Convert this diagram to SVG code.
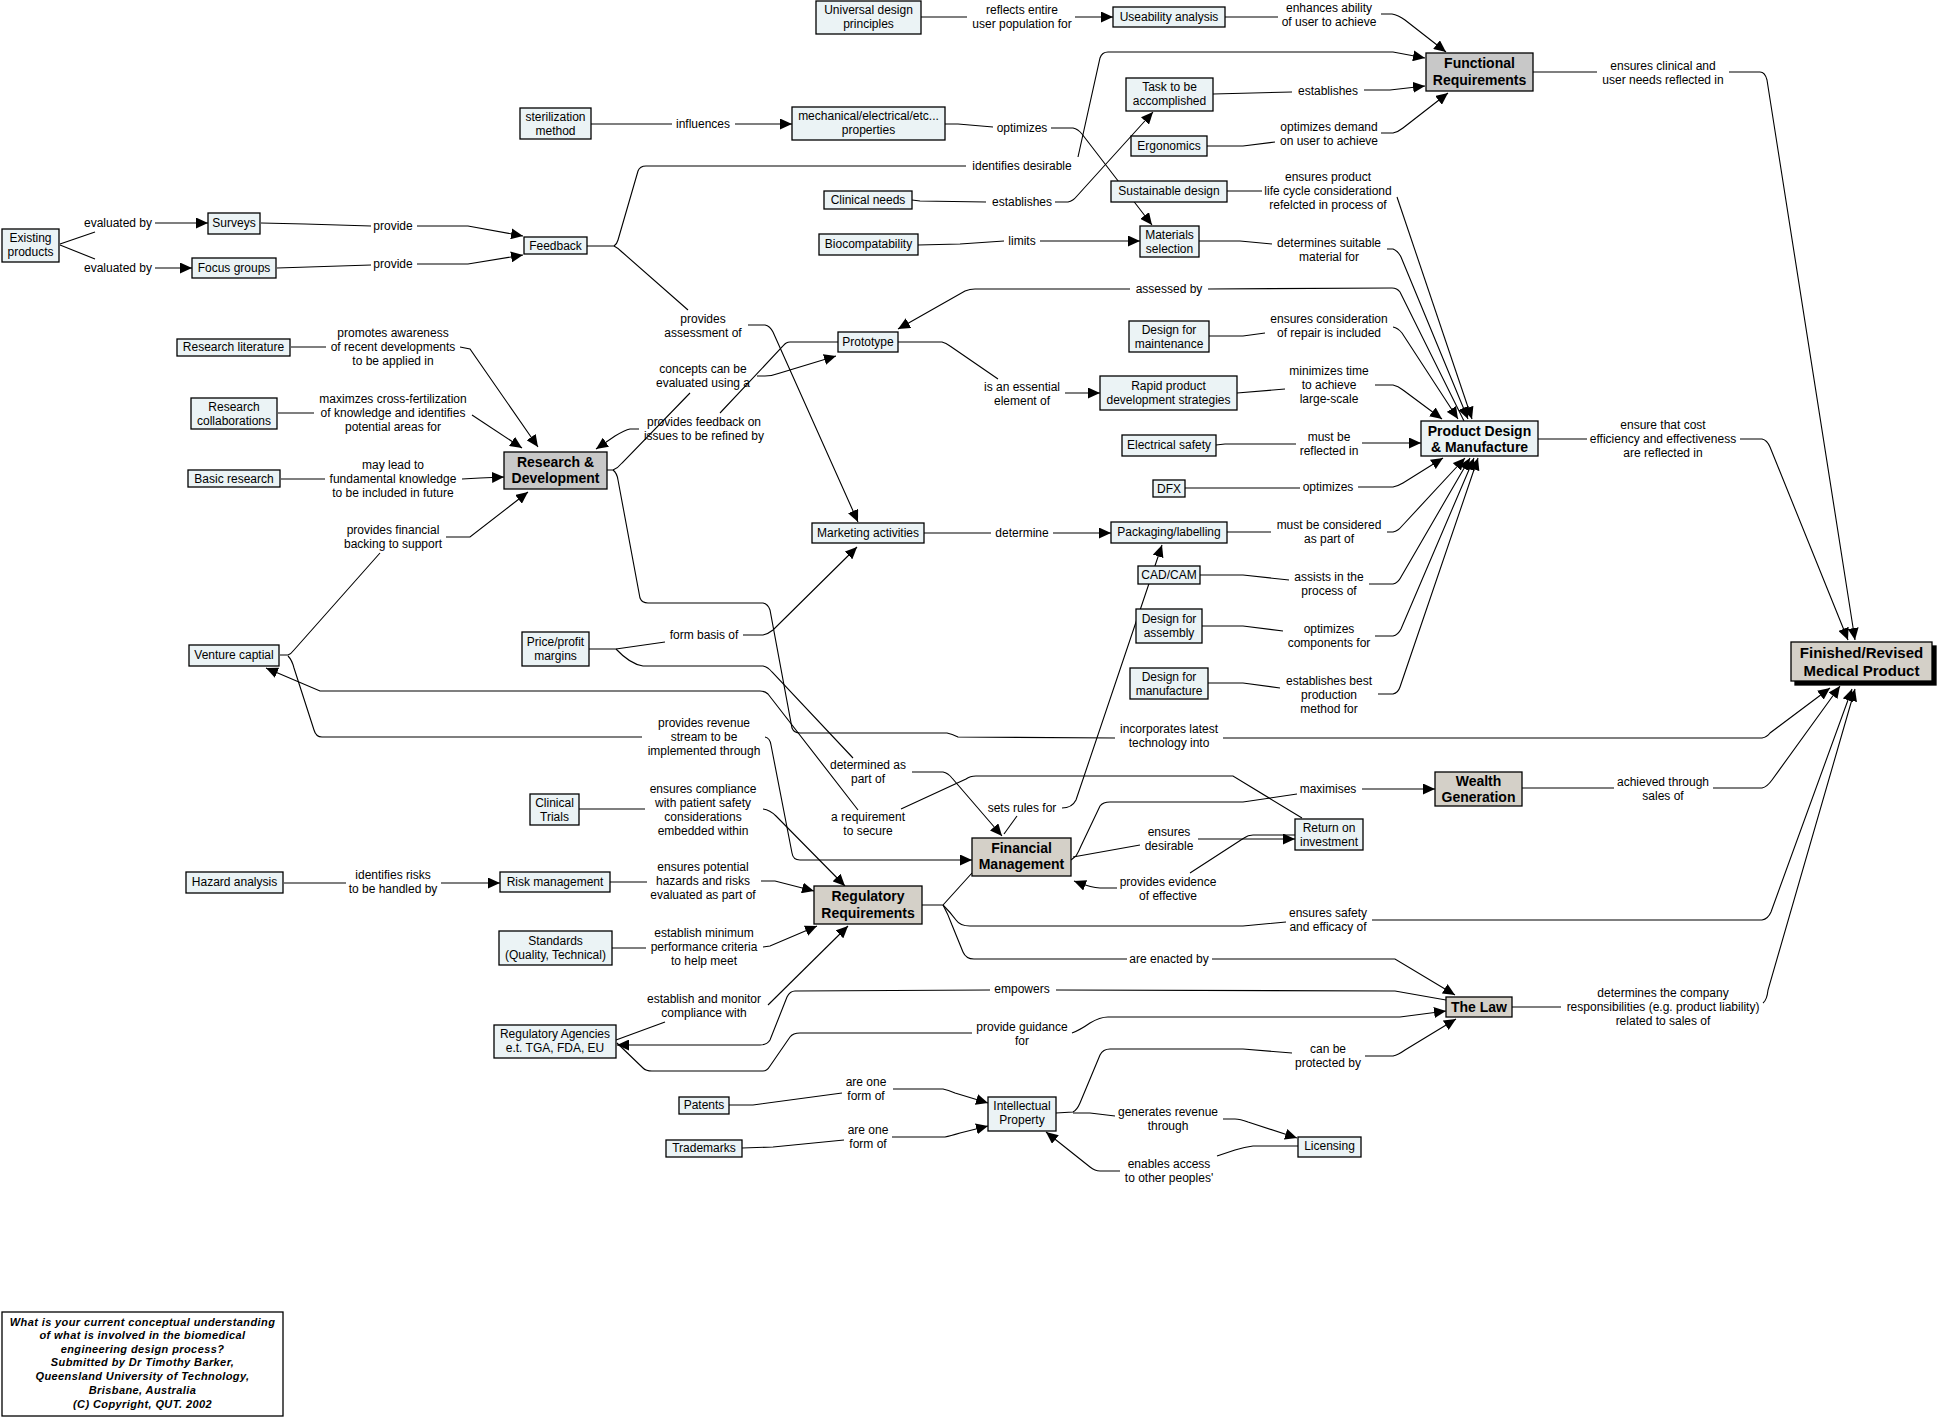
<svg xmlns="http://www.w3.org/2000/svg" width="1937" height="1417" viewBox="0 0 1937 1417">
<defs>
<marker id="ah" markerUnits="userSpaceOnUse" markerWidth="13" markerHeight="11" refX="12" refY="5.5" orient="auto"><path d="M0,0 L12,5.5 L0,11 z" fill="#000"/></marker>
<style>
text{font-family:"Liberation Sans",Arial,sans-serif;font-size:12px;text-anchor:middle;fill:#000}
.n rect{fill:#ebf3f5;stroke:#000;stroke-width:1.3}
.g rect{fill:#c8c8c8}
.k rect{fill:#d4d0c8}
.b text{font-weight:bold;font-size:14px}
.f text{font-weight:bold;font-size:15px}
#links path{fill:none;stroke:#000;stroke-width:1.1}
#links .a{marker-end:url(#ah)}
.cap text{font-weight:bold;font-style:italic;font-size:11px;letter-spacing:0.4px}
.cap rect{fill:#fff;stroke:#000;stroke-width:1.3}
</style>
</defs>
<rect width="1937" height="1417" fill="#fff"/>

<g id="links">
<path d="M60,244 L95,232"/><path class="a" d="M155,223 L208,223"/>
<path d="M60,245 L95,259"/><path class="a" d="M155,268 L192,268"/>
<text x="118" y="227">evaluated by</text>
<text x="118" y="272">evaluated by</text>
<path d="M261,223 L305,224 L371,226"/><path class="a" d="M417,226 L468,226 L523,236"/>
<path d="M277,268 L371,265"/><path class="a" d="M417,264 L468,264 L523,255"/>
<text x="393" y="230">provide</text>
<text x="393" y="268">provide</text>
<path d="M291,347 L326,347"/><path class="a" d="M460,347 L470,349 L538,447"/>
<text x="393" y="337">promotes awareness</text><text x="393" y="351">of recent developments</text><text x="393" y="365">to be applied in</text>
<path d="M278,413 L314,413"/><path class="a" d="M472,415 L522,448"/>
<text x="393" y="403">maximzes cross-fertilization</text><text x="393" y="417">of knowledge and identifies</text><text x="393" y="431">potential areas for</text>
<path d="M281,479 L325,479"/><path class="a" d="M462,479 L480,478 L504,477"/>
<text x="393" y="469">may lead to</text><text x="393" y="483">fundamental knowledge</text><text x="393" y="497">to be included in future</text>
<path d="M280,655 L288,655 Q291,654 294,650 L380,553"/><path class="a" d="M446,537 L470,537 L528,492"/>
<text x="393" y="534">provides financial</text><text x="393" y="548">backing to support</text>
<path d="M288,656 Q292,660 294,668 L314,730 Q316,737 322,737 L642,737"/>
<path class="a" d="M765,737 Q770,738 771,745 L792,853 Q793,860 800,860 L972,860"/>
<text x="704" y="727">provides revenue</text><text x="704" y="741">stream to be</text><text x="704" y="755">implemented through</text>
<path class="a" d="M858,810 L768,694 Q765,691 760,691 L320,691 L266,668"/>
<path d="M901,809 L966,779 Q970,776 976,776 L1233,776 L1302,818"/>
<text x="868" y="821">a requirement</text><text x="868" y="835">to secure</text>
<path d="M284,883 L346,883"/><path class="a" d="M441,883 L500,883"/>
<text x="393" y="879">identifies risks</text><text x="393" y="893">to be handled by</text>
<path d="M921,17 L967,17"/><path class="a" d="M1075,17 L1113,17"/>
<text x="1022" y="14">reflects entire</text><text x="1022" y="28">user population for</text>
<path d="M1225,17 L1278,17"/><path class="a" d="M1381,14 L1392,14 Q1398,15 1405,20 L1446,52"/>
<text x="1329" y="12">enhances ability</text><text x="1329" y="26">of user to achieve</text>
<path d="M591,124 L672,124"/><path class="a" d="M735,124 L792,124"/>
<text x="703" y="128">influences</text>
<path d="M945,124 L958,124 L993,127"/><path class="a" d="M1051,128 L1073,128 Q1078,129 1082,134 L1152,225"/>
<text x="1022" y="132">optimizes</text>
<path d="M587,246 L614,246 Q617,244 618,240 L638,171 Q640,166 646,166 L966,166"/>
<path class="a" d="M1078,157 L1100,58 Q1102,52 1108,52 L1393,52 L1425,58"/>
<text x="1022" y="170">identifies desirable</text>
<path d="M614,246 Q618,248 622,252 L688,310"/><path class="a" d="M748,325 L765,325 Q770,326 773,332 L858,522"/>
<text x="703" y="323">provides</text><text x="703" y="337">assessment of</text>
<path d="M912,200 L920,201 L986,202"/><path class="a" d="M1055,202 L1068,202 Q1073,201 1077,196 L1153,112"/>
<text x="1022" y="206">establishes</text>
<path d="M1213,94 L1292,92"/><path class="a" d="M1364,90 L1390,90 L1425,86"/>
<text x="1328" y="95">establishes</text>
<path d="M1207,146 L1243,146 L1275,142"/><path class="a" d="M1381,133 L1393,133 Q1398,132 1403,128 L1448,93"/>
<text x="1329" y="131">optimizes demand</text><text x="1329" y="145">on user to achieve</text>
<path d="M918,245 L960,244 L1004,241"/><path class="a" d="M1040,241 L1140,241"/>
<text x="1022" y="245">limits</text>
<path d="M1227,191 L1262,191"/><path class="a" d="M1397,197 L1472,419"/>
<text x="1328" y="181">ensures product</text><text x="1328" y="195">life cycle considerationd</text><text x="1328" y="209">refelcted in process of</text>
<path d="M1199,241 L1240,241 Q1250,242 1272,244"/><path class="a" d="M1387,249 L1393,249 Q1398,251 1401,257 L1468,419"/>
<text x="1329" y="247">determines suitable</text><text x="1329" y="261">material for</text>
<path d="M1464,421 L1400,292 Q1397,288 1392,288 L1208,289"/><path class="a" d="M1130,289 L975,289 Q970,289 965,291 L898,329"/>
<text x="1169" y="293">assessed by</text>
<path d="M1209,336 L1243,336 L1265,333"/><path class="a" d="M1393,327 Q1398,328 1402,333 L1458,419"/>
<text x="1329" y="323">ensures consideration</text><text x="1329" y="337">of repair is included</text>
<path d="M1237,393 L1285,389"/><path class="a" d="M1375,385 L1393,385 Q1398,386 1403,390 L1442,419"/>
<text x="1329" y="375">minimizes time</text><text x="1329" y="389">to achieve</text><text x="1329" y="403">large-scale</text>
<path d="M1216,445 L1225,444 L1296,444"/><path class="a" d="M1362,443 L1421,443"/>
<text x="1329" y="441">must be</text><text x="1329" y="455">reflected in</text>
<path d="M1185,488 L1300,488"/><path class="a" d="M1358,487 L1393,487 Q1398,486 1403,483 L1443,458"/>
<text x="1328" y="491">optimizes</text>
<path d="M1227,532 L1271,532"/><path class="a" d="M1387,532 L1393,532 Q1398,531 1402,526 L1465,458"/>
<text x="1329" y="529">must be considered</text><text x="1329" y="543">as part of</text>
<path d="M1200,575 L1243,575 L1289,580"/><path class="a" d="M1369,584 L1393,584 Q1398,583 1401,577 L1470,458"/>
<text x="1329" y="581">assists in the</text><text x="1329" y="595">process of</text>
<path d="M1202,626 L1243,626 L1283,631"/><path class="a" d="M1375,636 L1393,636 Q1398,635 1401,629 L1474,458"/>
<text x="1329" y="633">optimizes</text><text x="1329" y="647">components for</text>
<path d="M1208,683 L1243,683 L1280,688"/><path class="a" d="M1378,694 L1393,694 Q1398,693 1400,687 L1478,458"/>
<text x="1329" y="685">establishes best</text><text x="1329" y="699">production</text><text x="1329" y="713">method for</text>
<path d="M607,470 L613,470 Q618,468 622,463 L690,393"/><path class="a" d="M757,376 L765,376 Q772,376 780,373 L836,356"/>
<text x="703" y="373">concepts can be</text><text x="703" y="387">evaluated using a</text>
<path d="M838,342 L790,342 Q786,342 783,346 L720,413"/><path class="a" d="M639,429 L630,429 Q625,430 615,436 L596,449"/>
<text x="704" y="426">provides feedback on</text><text x="704" y="440">issues to be refined by</text>
<path d="M898,342 L942,342 Q946,343 950,346 L998,379"/><path class="a" d="M1065,393 L1100,393"/>
<text x="1022" y="391">is an essential</text><text x="1022" y="405">element of</text>
<path d="M613,470 Q617,473 618,480 L640,598 Q642,603 648,603 L763,603 Q768,604 770,610 L792,728 Q794,733 800,733 L947,733 Q952,734 958,737 L1115,738"/>
<path class="a" d="M1223,738 L1762,738 Q1767,737 1770,733 L1830,688"/>
<text x="1169" y="733">incorporates latest</text><text x="1169" y="747">technology into</text>
<path d="M924,533 L991,533"/>
<path class="a" d="M1053,533 L1111,533"/>
<text x="1022" y="537">determine</text>
<path d="M589,649 L616,649 L665,642"/><path class="a" d="M743,635 L763,635 Q768,634 773,630 L857,547"/>
<text x="704" y="639">form basis of</text>
<path d="M616,649 Q630,664 643,666 L763,666 Q768,667 772,672 L853,758"/>
<path class="a" d="M912,772 L943,772 Q948,773 952,778 L1002,836"/>
<text x="868" y="769">determined as</text><text x="868" y="783">part of</text>
<path d="M1017,816 L1004,834"/><path class="a" d="M1062,808 Q1072,808 1076,800 L1162,545"/>
<text x="1022" y="812">sets rules for</text>
<path d="M1071,860 L1076,856 Q1079,851 1081,846 L1100,806 Q1103,802 1110,802 L1243,802 L1297,794"/><path class="a" d="M1362,789 L1435,789"/>
<text x="1328" y="793">maximises</text>
<path d="M1073,857 L1140,845"/><path class="a" d="M1198,839 L1295,839"/>
<text x="1169" y="836">ensures</text><text x="1169" y="850">desirable</text>
<path d="M1295,835 L1253,835 Q1248,835 1244,838 L1190,873"/><path class="a" d="M1117,888 L1100,888 Q1092,888 1074,881"/>
<text x="1168" y="886">provides evidence</text><text x="1168" y="900">of effective</text>
<path d="M922,905 L943,905 L972,873"/>
<path d="M943,905 Q950,912 956,920 Q960,926 970,926 L1243,926 L1286,922"/><path class="a" d="M1372,920 L1762,920 Q1768,919 1771,912 L1852,689"/>
<text x="1328" y="917">ensures safety</text><text x="1328" y="931">and efficacy of</text>
<path d="M943,905 Q948,914 952,925 L963,952 Q966,959 974,959 L1127,959"/><path class="a" d="M1212,959 L1395,959 L1455,995"/>
<text x="1169" y="963">are enacted by</text>
<path d="M579,809 L645,809"/><path class="a" d="M763,809 Q770,810 776,816 L845,886"/>
<text x="703" y="793">ensures compliance</text><text x="703" y="807">with patient safety</text><text x="703" y="821">considerations</text><text x="703" y="835">embedded within</text>
<path d="M610,882 L647,882"/><path class="a" d="M761,881 L775,881 L814,891"/>
<text x="703" y="871">ensures potential</text><text x="703" y="885">hazards and risks</text><text x="703" y="899">evaluated as part of</text>
<path d="M612,948 L646,948"/><path class="a" d="M763,947 L770,946 L817,926"/>
<text x="704" y="937">establish minimum</text><text x="704" y="951">performance criteria</text><text x="704" y="965">to help meet</text>
<path d="M616,1040 L665,1022"/><path class="a" d="M768,1005 L848,926"/>
<text x="704" y="1003">establish and monitor</text><text x="704" y="1017">compliance with</text>
<path d="M1446,1000 L1395,991 L1056,990"/><path class="a" d="M990,990 L795,991 Q790,991 787,997 L770,1040 Q767,1045 760,1045 L617,1045"/>
<text x="1022" y="993">empowers</text>
<path d="M617,1043 L643,1068 Q646,1071 652,1071 L763,1071 Q767,1071 770,1066 L790,1037 Q793,1033 800,1033 L972,1033"/>
<path class="a" d="M1072,1033 Q1080,1030 1090,1023 Q1100,1017 1108,1017 L1400,1017 L1446,1011"/>
<text x="1022" y="1031">provide guidance</text><text x="1022" y="1045">for</text>
<path d="M1512,1007 L1561,1007"/><path class="a" d="M1763,1003 Q1767,1000 1768,990 L1855,689"/>
<text x="1663" y="997">determines the company</text><text x="1663" y="1011">responsibilities (e.g. product liability)</text><text x="1663" y="1025">related to sales of</text>
<path d="M1056,1113 L1073,1112 Q1077,1110 1080,1103 L1100,1055 Q1103,1049 1110,1049 L1243,1049 L1292,1053"/><path class="a" d="M1365,1056 L1393,1056 Q1398,1055 1405,1050 L1456,1019"/>
<text x="1328" y="1053">can be</text><text x="1328" y="1067">protected by</text>
<path d="M1073,1113 L1090,1113 L1115,1116"/><path class="a" d="M1223,1119 L1235,1119 Q1240,1119 1248,1122 L1297,1138"/>
<text x="1168" y="1116">generates revenue</text><text x="1168" y="1130">through</text>
<path d="M1298,1146 L1253,1146 Q1245,1147 1235,1150 L1217,1156"/><path class="a" d="M1120,1171 L1100,1171 Q1095,1171 1090,1167 L1046,1132"/>
<text x="1169" y="1168">enables access</text><text x="1169" y="1182">to other peoples'</text>
<path d="M729,1105 L753,1105 L842,1093"/><path class="a" d="M893,1089 L943,1089 Q948,1090 955,1093 L988,1103"/>
<text x="866" y="1086">are one</text><text x="866" y="1100">form of</text>
<path d="M742,1148 L773,1147 L844,1140"/><path class="a" d="M892,1137 L945,1137 Q950,1136 960,1133 L988,1126"/>
<text x="868" y="1134">are one</text><text x="868" y="1148">form of</text>
<path d="M1533,72 L1597,72"/><path class="a" d="M1729,72 L1760,72 Q1765,72 1767,80 L1855,640"/>
<text x="1663" y="70">ensures clinical and</text><text x="1663" y="84">user needs reflected in</text>
<path d="M1538,439 L1587,439"/><path class="a" d="M1740,439 L1762,439 Q1767,440 1770,447 L1848,640"/>
<text x="1663" y="429">ensure that cost</text><text x="1663" y="443">efficiency and effectiveness</text><text x="1663" y="457">are reflected in</text>
<path d="M1522,788 L1614,788"/><path class="a" d="M1713,788 L1762,788 Q1767,787 1772,780 L1840,686"/>
<text x="1663" y="786">achieved through</text><text x="1663" y="800">sales of</text>
</g>

<g id="existing" class="n"><rect x="2" y="229" width="57" height="33"/><text x="30.5" y="242">Existing</text><text x="30.5" y="256">products</text></g>
<g id="surveys" class="n"><rect x="208" y="213" width="52" height="21"/><text x="234" y="227">Surveys</text></g>
<g id="focus" class="n"><rect x="192" y="258" width="84" height="20"/><text x="234" y="272">Focus groups</text></g>
<g id="feedback" class="n"><rect x="524" y="237" width="63" height="17"/><text x="555.5" y="250">Feedback</text></g>
<g id="reslit" class="n"><rect x="177" y="339" width="113" height="17"/><text x="233.5" y="351">Research literature</text></g>
<g id="rescollab" class="n"><rect x="191" y="398" width="86" height="31"/><text x="234" y="411">Research</text><text x="234" y="425">collaborations</text></g>
<g id="basic" class="n"><rect x="188" y="470" width="92" height="17"/><text x="234" y="483">Basic research</text></g>
<g id="venture" class="n"><rect x="189" y="645" width="90" height="21"/><text x="234" y="659">Venture captial</text></g>
<g id="hazard" class="n"><rect x="186" y="872" width="97" height="21"/><text x="234.5" y="886">Hazard analysis</text></g>
<g id="udp" class="n"><rect x="816" y="1" width="105" height="33"/><text x="868.5" y="14">Universal design</text><text x="868.5" y="28">principles</text></g>
<g id="steril" class="n"><rect x="520" y="108" width="71" height="31"/><text x="555.5" y="121">sterilization</text><text x="555.5" y="135">method</text></g>
<g id="mech" class="n"><rect x="792" y="107" width="153" height="33"/><text x="868.5" y="120">mechanical/electrical/etc...</text><text x="868.5" y="134">properties</text></g>
<g id="clinneeds" class="n"><rect x="824" y="191" width="88" height="18"/><text x="868" y="204">Clinical needs</text></g>
<g id="biocomp" class="n"><rect x="819" y="234" width="99" height="21"/><text x="868.5" y="248">Biocompatability</text></g>
<g id="prototype" class="n"><rect x="838" y="332" width="60" height="20"/><text x="868" y="346">Prototype</text></g>
<g id="rd" class="n g b"><rect x="504" y="452" width="103" height="37"/><text x="555.5" y="467">Research &amp;</text><text x="555.5" y="483">Development</text></g>
<g id="useab" class="n"><rect x="1113" y="7" width="112" height="20"/><text x="1169" y="21">Useability analysis</text></g>
<g id="fr" class="n g b"><rect x="1426" y="53" width="107" height="38"/><text x="1479.5" y="68">Functional</text><text x="1479.5" y="85">Requirements</text></g>
<g id="task" class="n"><rect x="1126" y="78" width="87" height="33"/><text x="1169.5" y="91">Task to be</text><text x="1169.5" y="105">accomplished</text></g>
<g id="ergo" class="n"><rect x="1131" y="136" width="76" height="20"/><text x="1169" y="150">Ergonomics</text></g>
<g id="sustain" class="n"><rect x="1111" y="181" width="116" height="21"/><text x="1169" y="195">Sustainable design</text></g>
<g id="materials" class="n"><rect x="1140" y="226" width="59" height="31"/><text x="1169.5" y="239">Materials</text><text x="1169.5" y="253">selection</text></g>
<g id="dfmaint" class="n"><rect x="1129" y="321" width="80" height="31"/><text x="1169" y="334">Design for</text><text x="1169" y="348">maintenance</text></g>
<g id="rpd" class="n"><rect x="1100" y="376" width="137" height="34"/><text x="1168.5" y="390">Rapid product</text><text x="1168.5" y="404">development strategies</text></g>
<g id="elec" class="n"><rect x="1122" y="435" width="94" height="21"/><text x="1169" y="449">Electrical safety</text></g>
<g id="pdm" class="n b"><rect x="1421" y="421" width="117" height="35"/><text x="1479.5" y="436">Product Design</text><text x="1479.5" y="452">&amp; Manufacture</text></g>
<g id="dfx" class="n"><rect x="1153" y="480" width="32" height="17"/><text x="1169" y="493">DFX</text></g>
<g id="marketing" class="n"><rect x="812" y="523" width="112" height="20"/><text x="868" y="537">Marketing activities</text></g>
<g id="packaging" class="n"><rect x="1111" y="522" width="116" height="21"/><text x="1169" y="536">Packaging/labelling</text></g>
<g id="cadcam" class="n"><rect x="1138" y="566" width="62" height="18"/><text x="1169" y="579">CAD/CAM</text></g>
<g id="dfa" class="n"><rect x="1136" y="609" width="66" height="34"/><text x="1169" y="623">Design for</text><text x="1169" y="637">assembly</text></g>
<g id="dfm" class="n"><rect x="1130" y="668" width="78" height="31"/><text x="1169" y="681">Design for</text><text x="1169" y="695">manufacture</text></g>
<g id="ppm" class="n"><rect x="522" y="632" width="67" height="34"/><text x="555.5" y="646">Price/profit</text><text x="555.5" y="660">margins</text></g>
<g id="finished" class="n k f"><rect x="1795" y="646" width="141" height="39" style="fill:#000;stroke:#000"/><rect x="1791" y="642" width="141" height="39"/><text x="1861.5" y="658">Finished/Revised</text><text x="1861.5" y="676">Medical Product</text></g>
<g id="wealth" class="n k b"><rect x="1435" y="772" width="87" height="34"/><text x="1478.5" y="786">Wealth</text><text x="1478.5" y="802">Generation</text></g>
<g id="clintrials" class="n"><rect x="530" y="794" width="49" height="31"/><text x="554.5" y="807">Clinical</text><text x="554.5" y="821">Trials</text></g>
<g id="fm" class="n k b"><rect x="972" y="838" width="99" height="38"/><text x="1021.5" y="853">Financial</text><text x="1021.5" y="869">Management</text></g>
<g id="roi" class="n"><rect x="1295" y="819" width="68" height="31"/><text x="1329" y="832">Return on</text><text x="1329" y="846">investment</text></g>
<g id="riskm" class="n"><rect x="500" y="872" width="110" height="20"/><text x="555" y="886">Risk management</text></g>
<g id="rr" class="n k b"><rect x="814" y="886" width="108" height="38"/><text x="868" y="901">Regulatory</text><text x="868" y="918">Requirements</text></g>
<g id="standards" class="n"><rect x="499" y="931" width="113" height="34"/><text x="555.5" y="945">Standards</text><text x="555.5" y="959">(Quality, Technical)</text></g>
<g id="agencies" class="n"><rect x="494" y="1025" width="122" height="33"/><text x="555" y="1038">Regulatory Agencies</text><text x="555" y="1052">e.t. TGA, FDA, EU</text></g>
<g id="law" class="n k b"><rect x="1446" y="997" width="66" height="20"/><text x="1479" y="1012">The Law</text></g>
<g id="patents" class="n"><rect x="679" y="1097" width="50" height="17"/><text x="704" y="1109">Patents</text></g>
<g id="trademarks" class="n"><rect x="666" y="1140" width="76" height="17"/><text x="704" y="1152">Trademarks</text></g>
<g id="ip" class="n"><rect x="988" y="1097" width="68" height="34"/><text x="1022" y="1110">Intellectual</text><text x="1022" y="1124">Property</text></g>
<g id="licensing" class="n"><rect x="1298" y="1137" width="63" height="20"/><text x="1329.5" y="1150">Licensing</text></g>

<g id="caption" class="cap"><rect x="2" y="1312" width="281" height="104"/>
<text x="142.5" y="1326">What is your current conceptual understanding</text>
<text x="142.5" y="1339">of what is involved in the biomedical</text>
<text x="142.5" y="1353">engineering design process?</text>
<text x="142.5" y="1366">Submitted by Dr Timothy Barker,</text>
<text x="142.5" y="1380">Queensland University of Technology,</text>
<text x="142.5" y="1394">Brisbane, Australia</text>
<text x="142.5" y="1408">(C) Copyright, QUT. 2002</text>
</g>
</svg>
